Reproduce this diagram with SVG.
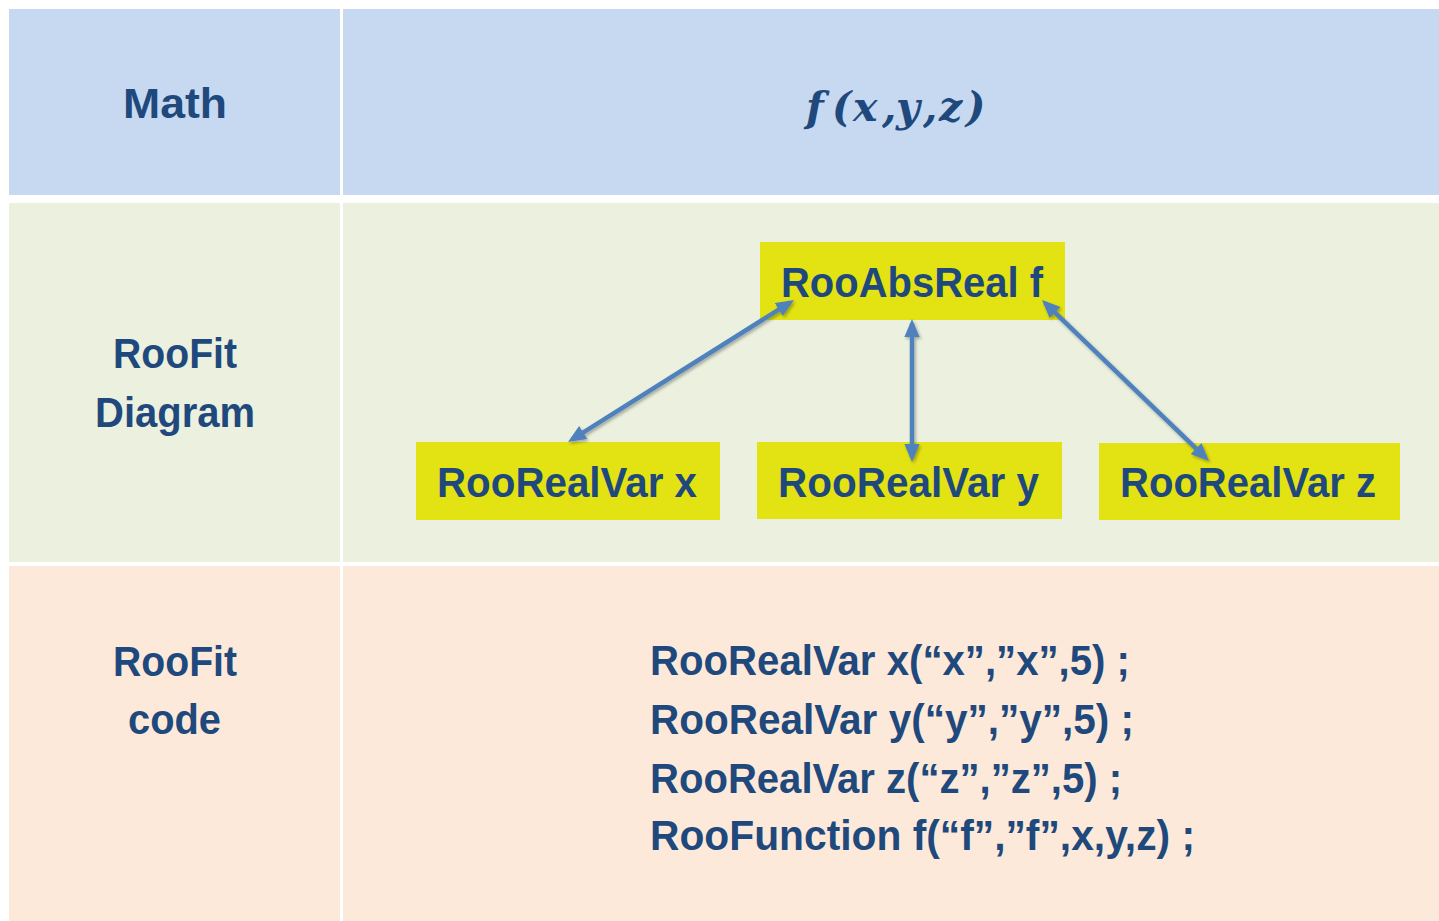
<svg xmlns="http://www.w3.org/2000/svg" width="1439" height="921" viewBox="0 0 1439 921">
<style>
.lbl{font-family:"Liberation Sans",Arial,sans-serif;font-weight:bold;font-size:42px;fill:#1F497D}
.node rect{fill:#E3E314}
.conn line{stroke:#4F81BD;stroke-width:4.5;fill:none}
</style>
<defs>
<marker id="ah" viewBox="0 0 4 3.4" refX="3" refY="1.7" markerWidth="4" markerHeight="3.4" orient="auto-start-reverse" markerUnits="strokeWidth">
<path d="M0,0 L4,1.7 L0,3.4 z" fill="#4F81BD"/>
</marker>
<filter id="sh" x="-10%" y="-10%" width="120%" height="120%">
<feDropShadow dx="1.5" dy="2" stdDeviation="1.5" flood-color="#000" flood-opacity="0.3"/>
</filter>
</defs>
<rect width="1439" height="921" fill="#FFFFFF"/>
<g id="table">
<rect x="9" y="9" width="331" height="186" fill="#C6D9F1"/>
<rect x="343" y="9" width="1096" height="186" fill="#C6D9F1"/>
<rect x="9" y="203" width="331" height="359" fill="#EBF1DE"/>
<rect x="343" y="203" width="1096" height="359" fill="#EBF1DE"/>
<rect x="9" y="566" width="331" height="355" fill="#FDE9D9"/>
<rect x="343" y="566" width="1096" height="355" fill="#FDE9D9"/>
</g>
<g id="labels">
<text class="lbl" x="123" y="118" textLength="104" lengthAdjust="spacingAndGlyphs">Math</text>
<text class="lbl" x="113" y="368" textLength="124" lengthAdjust="spacingAndGlyphs">RooFit</text>
<text class="lbl" x="95" y="427" textLength="160" lengthAdjust="spacingAndGlyphs">Diagram</text>
<text class="lbl" x="113" y="676" textLength="124" lengthAdjust="spacingAndGlyphs">RooFit</text>
<text class="lbl" x="128" y="734" textLength="93" lengthAdjust="spacingAndGlyphs">code</text>
<text y="121" font-family="'DejaVu Serif','Liberation Serif',serif" font-weight="bold" font-style="italic" font-size="41" fill="#1F497D"><tspan x="806">f</tspan><tspan x="832">(</tspan><tspan x="853">x</tspan><tspan x="882">,</tspan><tspan x="896">y</tspan><tspan x="923">,</tspan><tspan x="939">z</tspan><tspan x="966">)</tspan></text>
</g>
<g id="code">
<text class="lbl" x="650" y="675" textLength="480" lengthAdjust="spacingAndGlyphs">RooRealVar x(“x”,”x”,5) ;</text>
<text class="lbl" x="650" y="734" textLength="484" lengthAdjust="spacingAndGlyphs">RooRealVar y(“y”,”y”,5) ;</text>
<text class="lbl" x="650" y="793" textLength="472" lengthAdjust="spacingAndGlyphs">RooRealVar z(“z”,”z”,5) ;</text>
<text class="lbl" x="650" y="850" textLength="545" lengthAdjust="spacingAndGlyphs">RooFunction f(“f”,”f”,x,y,z) ;</text>
</g>
<g id="node-f" class="node">
<rect x="760" y="242" width="305" height="78"/>
<text class="lbl" x="781" y="297" textLength="262" lengthAdjust="spacingAndGlyphs">RooAbsReal f</text>
</g>
<g id="node-x" class="node">
<rect x="416" y="442" width="304" height="78"/>
<text class="lbl" x="437" y="497" textLength="260" lengthAdjust="spacingAndGlyphs">RooRealVar x</text>
</g>
<g id="node-y" class="node">
<rect x="757" y="442" width="305" height="77"/>
<text class="lbl" x="778" y="497" textLength="261" lengthAdjust="spacingAndGlyphs">RooRealVar y</text>
</g>
<g id="node-z" class="node">
<rect x="1099" y="443" width="301" height="77"/>
<text class="lbl" x="1120" y="497" textLength="256" lengthAdjust="spacingAndGlyphs">RooRealVar z</text>
</g>
<g id="connectors" class="conn" filter="url(#sh)">
<line x1="571.8" y1="439.6" x2="790.2" y2="302.4" marker-start="url(#ah)" marker-end="url(#ah)"/>
<line x1="912" y1="323.5" x2="912" y2="457.5" marker-start="url(#ah)" marker-end="url(#ah)"/>
<line x1="1045.2" y1="303.1" x2="1205.8" y2="457.9" marker-start="url(#ah)" marker-end="url(#ah)"/>
</g>
</svg>
